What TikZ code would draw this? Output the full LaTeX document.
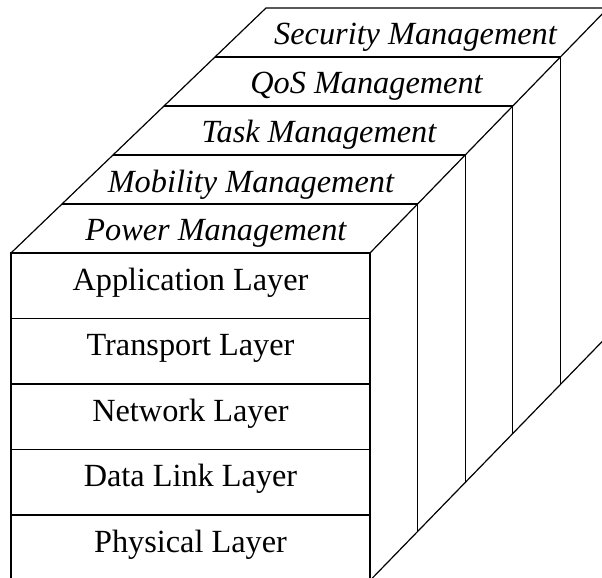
\documentclass[tikz,border=0pt]{standalone}
\usepackage{fontspec}
\setmainfont{Liberation Serif}
\usepackage{tikz}
\usetikzlibrary{positioning,calc}

\tikzstyle{layer} = [draw, line width=0.6pt, minimum width=179.5pt,
  minimum height=32.75pt, inner sep=0pt, outer sep=0pt,
  font=\fontsize{16.15}{19}\selectfont, text height=0.69em, text depth=0.22em]
\tikzstyle{mgmt} = [anchor=base, inner sep=0pt,
  font=\fontsize{16.15}{19}\selectfont\itshape]
\tikzstyle{line} = [draw, line width=0.6pt, color=black]

\begin{document}
\begin{tikzpicture}[x=0.5pt,y=-0.5pt]
  \useasboundingbox (0,0) rectangle (602,578);
  \clip (0,0) rectangle (602,578);

  % Protocol layers (front face)
  \node (app)[layer] at (190.5,285.75) {Application Layer};
  \node (tra)[layer, below=0pt of app] {Transport Layer};
  \node (net)[layer, below=0pt of tra] {Network Layer};
  \node (dll)[layer, below=0pt of net] {Data Link Layer};
  \node (phy)[layer, below=0pt of dll] {Physical Layer};

  % Far corners of the management planes
  \coordinate (tl) at (266,8);
  \coordinate (tr) at (608,8);
  \coordinate (br) at (608,335.5);

  % Edges of the management planes
  \path [line] (app.north west) -- (tl) -- (tr) -- (app.north east);
  \path [line] (phy.south east) -- (br);
  \path [line] ($(app.north west)!0.2!(tl)$) -- ($(app.north east)!0.2!(tr)$)
    -- ($(phy.south east)!0.2!(br)$);
  \path [line] ($(app.north west)!0.4!(tl)$) -- ($(app.north east)!0.4!(tr)$)
    -- ($(phy.south east)!0.4!(br)$);
  \path [line] ($(app.north west)!0.6!(tl)$) -- ($(app.north east)!0.6!(tr)$)
    -- ($(phy.south east)!0.6!(br)$);
  \path [line] ($(app.north west)!0.8!(tl)$) -- ($(app.north east)!0.8!(tr)$)
    -- ($(phy.south east)!0.8!(br)$);
  \path [line] (tr) -- (br);

  % Management planes
  \node (pwr)[mgmt] at (215.9,241) {Power Management};
  \node (mob)[mgmt] at (250.9,192.5) {Mobility Management};
  \node (tsk)[mgmt] at (319,142.5) {Task Management};
  \node (qos)[mgmt] at (366.5,94) {QoS Management};
  \node (sec)[mgmt] at (415.5,45) {Security Management};
\end{tikzpicture}
\end{document}
